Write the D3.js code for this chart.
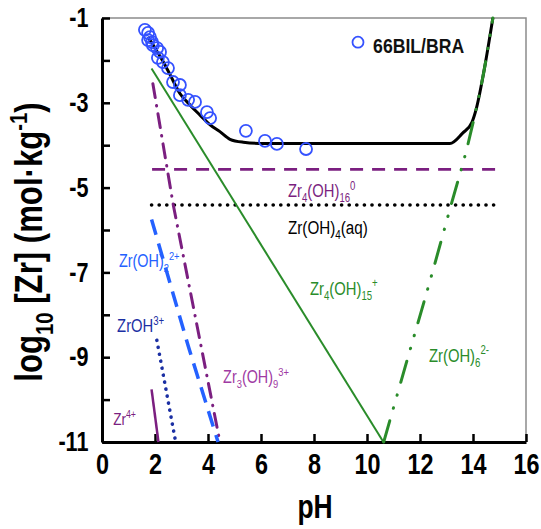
<!DOCTYPE html>
<html>
<head>
<meta charset="utf-8">
<script src="https://cdn.jsdelivr.net/npm/d3@7"></script>
<style>
  body { margin: 0; background: #fff; }
  svg text { font-family: "Liberation Sans", Arial, sans-serif; }
</style>
</head>
<body>
<div id="chart"></div>
<script>
// data: [pH, log10 Zr]
var bilbraPoints = [
  [1.62, -1.28], [1.74, -1.35], [1.81, -1.45], [1.74, -1.52], [1.89, -1.57],
  [1.92, -1.64], [2.08, -1.71], [2.19, -1.80], [2.11, -1.94], [2.30, -2.04],
  [2.49, -2.18], [2.68, -2.51], [2.94, -2.58], [2.94, -2.82], [3.25, -2.93],
  [3.51, -2.98], [3.96, -3.22], [4.08, -3.36], [5.43, -3.66], [6.15, -3.90],
  [6.60, -3.97], [7.70, -4.09]
];
var totalZr = [
  [1.74, -1.44], [2.0, -1.71], [2.31, -2.03], [2.57, -2.34], [2.94, -2.78],
  [3.32, -3.05], [3.70, -3.29], [4.08, -3.52], [4.45, -3.68], [4.83, -3.86],
  [5.33, -3.93], [6.08, -3.96], [13.13, -3.96], [13.6, -3.72], [13.96, -3.46],
  [14.12, -3.15], [14.4, -2.3], [14.75, -1.0]
];
var zr4OH16 = [[1.89, -4.57], [14.92, -4.57]];
var zrOH4aq = [[1.87, -5.41], [14.85, -5.41]];
var zr4OH15 = [[1.87, -2.19], [10.62, -11]];
var zr3OH9 = [[1.92, -2.55], [2.69, -5.41], [4.45, -11]];
var zrOH2 = [[1.87, -5.75], [3.26, -8.75], [4.38, -11]];
var zrOH = [[2.07, -8.6], [2.78, -11]];
var zr4plus = [[1.87, -9.76], [2.13, -11]];
var zrOH6 = [
  [10.63, -11], [11.5, -9.1], [12.4, -7.15], [13.2, -5.35], [13.8, -4.0],
  [14.1, -3.2], [14.4, -2.3], [14.75, -1.0]
];
var xTicks = [0, 2, 4, 6, 8, 10, 12, 14, 16];
var yTicks = [-11, -10, -9, -8, -7, -6, -5, -4, -3, -2, -1];

var W = 541, H = 529;
var margin = { top: 18, right: 15, bottom: 87, left: 102 };

var svg = d3.select("#chart").append("svg")
  .attr("width", W).attr("height", H);

var x = d3.scaleLinear().domain([0, 16]).range([margin.left, W - margin.right]);
var y = d3.scaleLinear().domain([-11, -1]).range([H - margin.bottom, margin.top]);

// frame (top/right thin grey)
svg.append("path")
  .attr("d", `M${x(0)},${y(-1)}H${x(16)}V${y(-11)}`)
  .attr("fill", "none").attr("stroke", "#8c8c8c").attr("stroke-width", 1.5);

// axes
var xAxis = d3.axisBottom(x).tickValues(xTicks).tickSizeInner(-8).tickSizeOuter(0)
  .tickPadding(11).tickFormat(d => String(d));
var yAxis = d3.axisLeft(y).tickValues(yTicks).tickSizeInner(-8).tickSizeOuter(0)
  .tickPadding(17).tickFormat(d => Math.abs(d) % 2 === 1 ? String(d) : "");

var gx = svg.append("g").attr("transform", `translate(0,${y(-11)})`).call(xAxis);
var gy = svg.append("g").attr("transform", `translate(${x(0)},0)`).call(yAxis);

[gx, gy].forEach(g => {
  g.select(".domain").attr("stroke", "#000").attr("stroke-width", 3);
  g.selectAll(".tick line").attr("stroke", "#000").attr("stroke-width", 2.5);
  g.selectAll(".tick text").attr("fill", "#000").attr("font-weight", "bold")
    .style("font-family", '"Liberation Sans", Arial, sans-serif');
});
gx.selectAll(".tick text").attr("font-size", 30).attr("transform", "scale(0.78,1)");
gy.selectAll(".tick text").attr("font-size", 27).attr("transform", "scale(0.8,1)");

// lines
var line = d3.line().x(d => x(d[0])).y(d => y(d[1]));
var smooth = d3.line().x(d => x(d[0])).y(d => y(d[1])).curve(d3.curveMonotoneX);

function drawLine(data, gen, color, width, dash, cap) {
  svg.append("path").datum(data)
    .attr("d", gen)
    .attr("fill", "none")
    .attr("stroke", color)
    .attr("stroke-width", width)
    .attr("stroke-dasharray", dash || null)
    .attr("stroke-linecap", cap || "butt");
}

var purple = "#7b1f80", green = "#2a8c2a", blue = "#2461ff", navy = "#1b2fa3";

drawLine(zr4OH16, line, purple, 2.8, "13,9");
drawLine(zrOH4aq, line, "#000", 3.6, "0.1,7.5", "round");
drawLine(zr4OH15, line, green, 2);
drawLine(zr3OH9, line, purple, 3, "14,8,0.5,8", "round");
drawLine(zrOH2, line, blue, 3.5, "16,9");
drawLine(zrOH, line, navy, 3.6, "0.1,7", "round");
drawLine(zr4plus, line, purple, 2.5);
drawLine(totalZr, smooth, "#000", 3);
drawLine(zrOH6, smooth, green, 3, "22,13,0.5,13,0.5,13", "round");

// experimental points
svg.append("g").selectAll("circle").data(bilbraPoints).join("circle")
  .attr("cx", d => x(d[0])).attr("cy", d => y(d[1])).attr("r", 6)
  .attr("fill", "none").attr("stroke", "#3552ff").attr("stroke-width", 1.8);

// text helper with sub/superscripts
function label(px, py, parts, o) {
  var tr = `translate(${px},${py})` + (o.rotate ? ` rotate(${o.rotate})` : "") + ` scale(${o.sx || 0.8},1)`;
  var t = svg.append("text").attr("transform", tr)
    .attr("font-size", o.size).attr("fill", o.color || "#000")
    .attr("font-weight", o.weight || "normal")
    .attr("text-anchor", o.anchor || "start");
  var shift = 0;
  parts.forEach(p => {
    var s = typeof p === "string" ? p : p[0];
    var kind = typeof p === "string" ? null : p[1];
    var target = kind === "sub" ? o.size * 0.28 : kind === "sup" ? -o.size * 0.4 : 0;
    t.append("tspan").attr("dy", target - shift)
      .attr("font-size", kind ? o.size * 0.65 : o.size).text(s);
    shift = target;
  });
}

// legend
svg.append("circle").attr("cx", x(9.66)).attr("cy", y(-1.57)).attr("r", 5.5)
  .attr("fill", "none").attr("stroke", "#3552ff").attr("stroke-width", 1.8);
label(x(10.23), y(-1.82), ["66BIL/BRA"], { size: 20.5, weight: "bold", sx: 0.86, color: "#111" });

// species labels
label(x(7.02), y(-5.22), ["Zr", ["4", "sub"], "(OH)", ["16", "sub"], ["0", "sup"]], { size: 18.5, color: purple });
label(x(7.02), y(-6.09), ["Zr(OH)", ["4", "sub"], "(aq)"], { size: 19, color: "#000" });
label(x(0.64), y(-6.87), ["Zr(OH)", ["2", "sub"], ["2+", "sup"]], { size: 18, color: blue });
label(x(0.57), y(-8.41), ["ZrOH", ["3+", "sup"]], { size: 18.5, color: navy });
label(x(0.42), y(-10.6), ["Zr", ["4+", "sup"]], { size: 17, color: purple });
label(x(4.57), y(-9.61), ["Zr", ["3", "sub"], "(OH)", ["9", "sub"], ["3+", "sup"]], { size: 18, color: "#a03aa3" });
label(x(7.85), y(-7.53), ["Zr", ["4", "sub"], "(OH)", ["15", "sub"], ["+", "sup"]], { size: 18.5, color: green });
label(x(12.34), y(-9.11), ["Zr(OH)", ["6", "sub"], ["2-", "sup"]], { size: 18.5, color: green });

// axis titles
label(315, 518, ["pH"], { size: 33, weight: "bold", anchor: "middle", sx: 0.8 });
label(42, 242, ["log", ["10", "sub"], " [Zr] (mol\u00b7kg", ["-1", "sup"], ")"],
  { size: 38, weight: "bold", anchor: "middle", sx: 0.82, rotate: -90 });
</script>
</body>
</html>
